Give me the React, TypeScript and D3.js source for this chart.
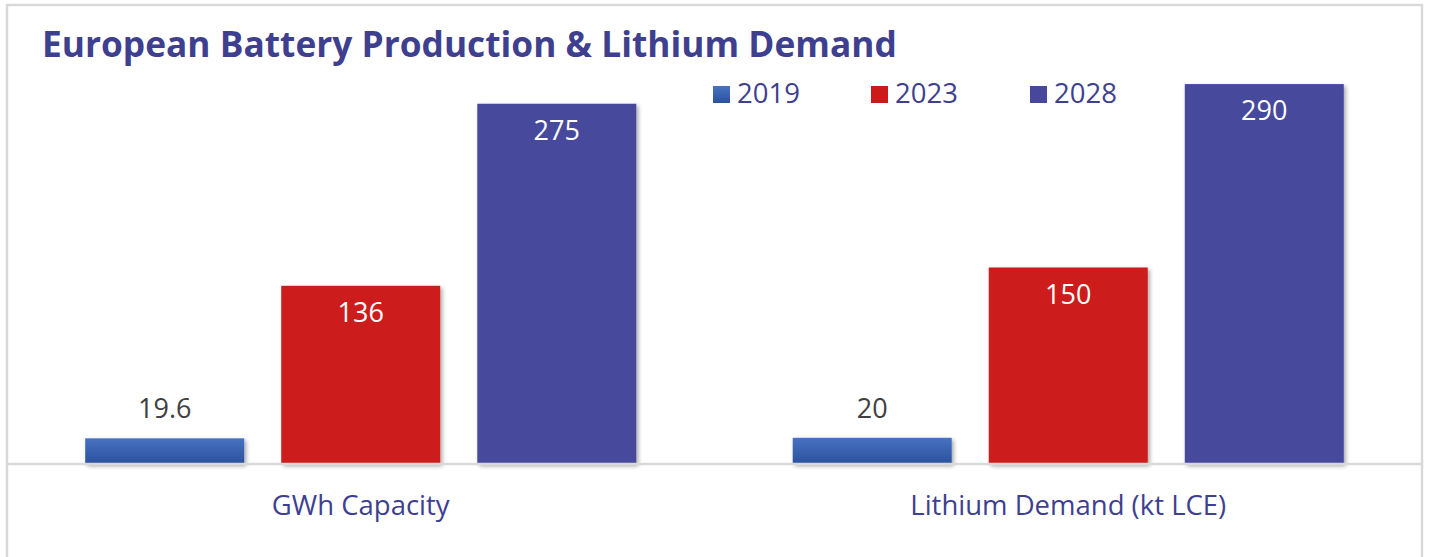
import React from "react";
import * as d3 from "d3";

const categories = ["GWh Capacity", "Lithium Demand (kt LCE)"];
const seriesNames = ["2019", "2023", "2028"];
const values2019 = [19.6, 20];
const values2023 = [136, 150];
const values2028 = [275, 290];
const valueLabels2019 = ["19.6", "20"];
const valueLabels2023 = ["136", "150"];
const valueLabels2028 = ["275", "290"];
const title = "European Battery Production & Lithium Demand";

const W = 1429;
const H = 557;
const FONT = "'Open Sans', 'Noto Sans', sans-serif";
const TEXT_BLUE = "#3F3F8F";

export default function App() {
  const series = [
    { name: seriesNames[0], values: values2019, labels: valueLabels2019, fill: "url(#grad2019)", inside: false },
    { name: seriesNames[1], values: values2023, labels: valueLabels2023, fill: "#CC1A1B", inside: true },
    { name: seriesNames[2], values: values2028, labels: valueLabels2028, fill: "#47489C", inside: true },
  ];
  const legendFills = ["url(#grad2019)", "#CC1A1B", "#47489C"];

  const x0 = d3.scaleBand<string>().domain(categories).range([7, 1422]).paddingInner(0).paddingOuter(0);
  const x1 = d3
    .scaleBand<string>()
    .domain(seriesNames)
    .range([0, x0.bandwidth()])
    .paddingInner(0.189)
    .paddingOuter(0.399);
  const y = d3.scaleLinear().domain([0, 300]).range([464, 71]);

  const legendX = d3.scaleOrdinal<string, number>().domain(seriesNames).range([713, 871, 1030]);

  return (
    <svg width={W} height={H} style={{ position: "absolute", left: 0, top: 0 }}>
      <defs>
        <linearGradient id="grad2019" x1="0" y1="0" x2="0" y2="1">
          <stop offset="0%" stopColor="#4772C2" />
          <stop offset="100%" stopColor="#2A519C" />
        </linearGradient>
        <filter id="shadow" x="-10%" y="-10%" width="130%" height="130%">
          <feDropShadow dx="2" dy="2" stdDeviation="2" floodColor="#000" floodOpacity="0.35" />
        </filter>
      </defs>
      <rect x={0} y={0} width={W} height={H} fill="#fff" />
      <rect x={7} y={5} width={1415} height={600} fill="#fff" stroke="#D9D9D9" strokeWidth={2.5} />
      <text x={42} y={57} fontFamily={FONT} fontWeight="bold" fontSize={35.3} fill={TEXT_BLUE}>
        {title}
      </text>

      {categories.map((c, ci) => (
        <g key={c} transform={`translate(${x0(c)},0)`}>
          {series.map((s) => {
            const bx = x1(s.name)!;
            const bw = x1.bandwidth();
            const top = y(s.values[ci]);
            return (
              <g key={s.name}>
                <rect x={bx} y={top} width={bw} height={y(0) - top} fill={s.fill} filter="url(#shadow)" />
                <text
                  x={bx + bw / 2}
                  y={s.inside ? top + 36 : top - 20}
                  textAnchor="middle"
                  fontFamily={FONT}
                  fontSize={27}
                  fill={s.inside ? "#fff" : "#404040"}
                >
                  {s.labels[ci]}
                </text>
              </g>
            );
          })}
        </g>
      ))}

      <line x1={7} x2={1422} y1={464} y2={464} stroke="#D9D9D9" strokeWidth={2.5} />

      {categories.map((c) => (
        <text
          key={c}
          x={x0(c)! + x0.bandwidth() / 2}
          y={515}
          textAnchor="middle"
          fontFamily={FONT}
          fontSize={27.5}
          fill={TEXT_BLUE}
        >
          {c}
        </text>
      ))}

      {seriesNames.map((n, i) => (
        <g key={n} transform={`translate(${legendX(n)},0)`}>
          <rect x={0} y={86} width={17} height={17} fill={legendFills[i]} />
          <text x={24} y={103} fontFamily={FONT} fontSize={27.5} fill={TEXT_BLUE}>
            {n}
          </text>
        </g>
      ))}
    </svg>
  );
}
